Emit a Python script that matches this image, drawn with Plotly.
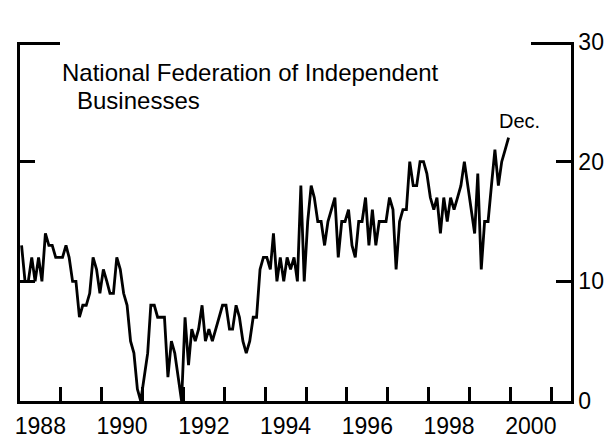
import plotly.graph_objects as go
import pandas as pd

# Monthly index values, Jan 1988 - Dec 1999 (percent)
v1988 = [13, 10, 10, 12, 10, 12, 10, 14, 13, 13, 12, 12]
v1989 = [12, 13, 12, 10, 10, 7, 8, 8, 9, 12, 11, 9]
v1990 = [11, 10, 9, 9, 12, 11, 9, 8, 5, 4, 1, 0]
v1991 = [2, 4, 8, 8, 7, 7, 7, 2, 5, 4, 2, 0]
v1992 = [7, 3, 6, 5, 6, 8, 5, 6, 5, 6, 7, 8]
v1993 = [8, 6, 6, 8, 7, 5, 4, 5, 7, 7, 11, 12]
v1994 = [12, 11, 14, 10, 12, 10, 12, 11, 12, 10, 18, 10]
v1995 = [15, 18, 17, 15, 15, 13, 15, 16, 17, 12, 15, 15]
v1996 = [16, 13, 12, 15, 15, 17, 13, 16, 13, 15, 15, 15]
v1997 = [17, 16, 11, 15, 16, 16, 20, 18, 18, 20, 20, 19]
v1998 = [17, 16, 17, 14, 17, 15, 17, 16, 17, 18, 20, 18]
v1999 = [16, 14, 19, 11, 15, 15, 18, 21, 18, 20, 21, 22]

values = v1988 + v1989 + v1990 + v1991 + v1992 + v1993 + v1994 + v1995 + v1996 + v1997 + v1998 + v1999
dates = pd.date_range("1988-01-01", periods=len(values), freq="MS") + pd.Timedelta(days=14)

label_years = [1988, 1990, 1992, 1994, 1996, 1998, 2000]
tick_years = list(range(1989, 2002))
y_ticks = [0, 10, 20, 30]
top_tick = [29.88]  # long end-tick at the top of the scale (kept just inside the range so it is drawn)

FONT = "Liberation Sans, Arial, Helvetica, sans-serif"
BLACK = "#000000"

fig = go.Figure()
fig.add_trace(go.Scatter(
    x=dates, y=values, mode="lines",
    line=dict(color=BLACK, width=2.8),
    showlegend=False, hoverinfo="skip", yaxis="y",
))
# invisible helper so the overlay axis is drawn
fig.add_trace(go.Scatter(
    x=[dates[0]], y=[values[0]], mode="markers", marker=dict(opacity=0),
    showlegend=False, hoverinfo="skip", yaxis="y2",
))

fig.update_layout(
    width=608, height=438,
    margin=dict(l=7, r=45, t=34, b=38),
    paper_bgcolor="white", plot_bgcolor="white",
    font=dict(family=FONT, color=BLACK, size=23),
    xaxis=dict(
        type="date",
        range=["1988-01-01", "2001-06-25"],
        showline=True, linecolor=BLACK, linewidth=2.5,
        showgrid=False, zeroline=False,
        tickmode="array",
        tickvals=[f"{y}-07-01" for y in label_years],
        ticktext=[str(y) for y in label_years],
        ticks="", tickfont=dict(size=23, family=FONT, color=BLACK),
        ticklabelstandoff=3,
        minor=dict(
            tickmode="array",
            tickvals=[f"{y}-01-01" for y in tick_years],
            ticks="inside", ticklen=14, tickwidth=2.5, tickcolor=BLACK,
            showgrid=False,
        ),
    ),
    yaxis=dict(
        range=[0, 30], side="right",
        tickmode="array", tickvals=y_ticks, ticktext=[str(v) for v in y_ticks],
        ticks="inside", ticklen=15, tickwidth=2.5, tickcolor=BLACK,
        showline=True, linecolor=BLACK, linewidth=2.5, mirror="ticks",
        showgrid=False, zeroline=False,
        tickfont=dict(size=23, family=FONT, color=BLACK),
    ),
    yaxis2=dict(
        range=[0, 30], side="right", overlaying="y",
        tickmode="array", tickvals=top_tick,
        ticks="inside", ticklen=40, tickwidth=2.5, tickcolor=BLACK,
        showline=False, mirror="ticks", showticklabels=False,
        showgrid=False, zeroline=False,
    ),
    annotations=[
        dict(text="National Federation of Independent", xref="paper", yref="paper",
             x=0.072, y=0.914, xanchor="left", yanchor="middle", showarrow=False,
             font=dict(size=24, family=FONT, color=BLACK)),
        dict(text="Businesses", xref="paper", yref="paper",
             x=0.099, y=0.838, xanchor="left", yanchor="middle", showarrow=False,
             font=dict(size=24, family=FONT, color=BLACK)),
        dict(text="Dec.", xref="paper", yref="paper",
             x=0.865, y=0.779, xanchor="left", yanchor="middle", showarrow=False,
             font=dict(size=20, family=FONT, color=BLACK)),
    ],
)

fig.write_html("out.html")
